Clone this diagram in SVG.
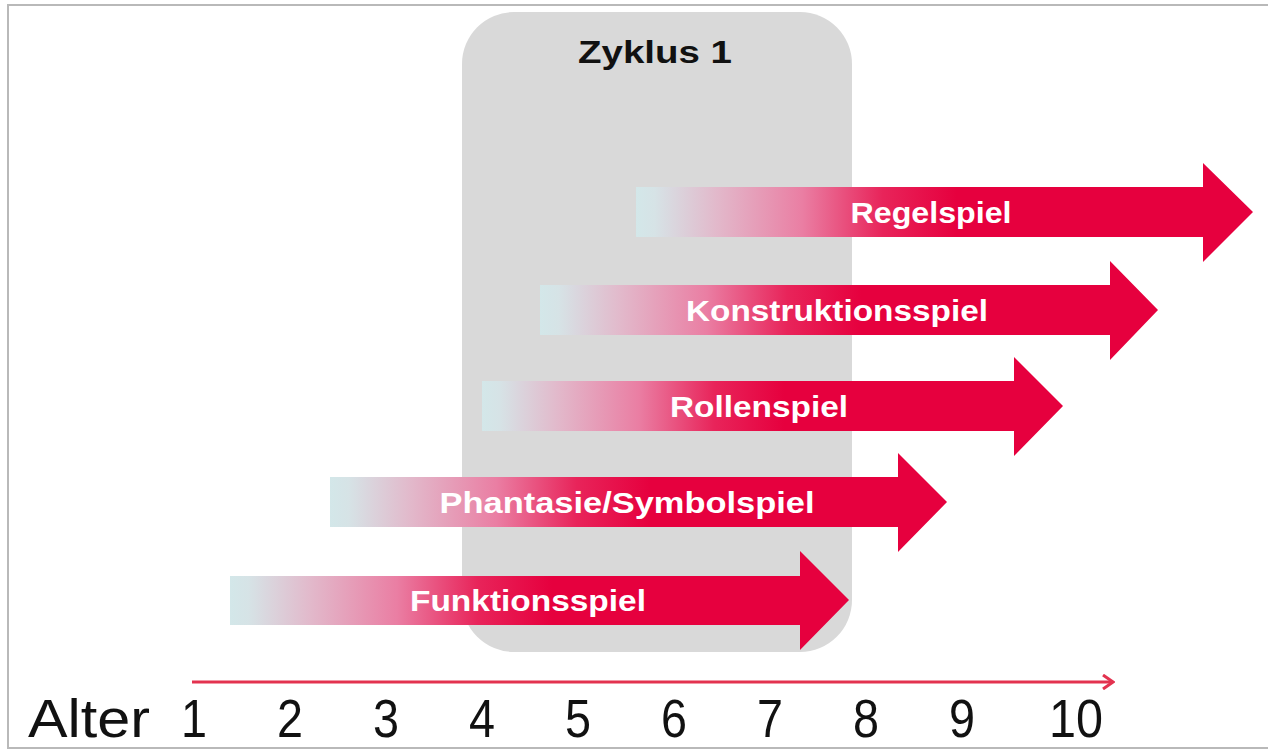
<svg xmlns="http://www.w3.org/2000/svg" width="1268" height="750" viewBox="0 0 1268 750">
  <defs>
    <linearGradient id="fade" x1="0" y1="0" x2="1" y2="0">
      <stop offset="0" stop-color="#d3e7e9"/>
      <stop offset="0.03" stop-color="#d6e3e6"/>
      <stop offset="0.13" stop-color="#e2b9cb"/>
      <stop offset="0.27" stop-color="#ea7ea3"/>
      <stop offset="0.4" stop-color="#e8245a"/>
      <stop offset="0.52" stop-color="#e6003e"/>
      <stop offset="1" stop-color="#e6003e"/>
    </linearGradient>
    <marker id="axisHead" markerWidth="14" markerHeight="16" refX="12" refY="8" orient="auto" markerUnits="userSpaceOnUse">
      <path d="M2,1 L12,8 L2,15" fill="none" stroke="#e3324f" stroke-width="3"/>
    </marker>
  </defs>
  <style>
    .arrow { fill: url(#fade); }
    .lbl { font-family: "Liberation Sans", Arial, sans-serif; font-weight: bold; font-size: 29px; fill: #ffffff; text-anchor: middle; }
    .title { font-family: "Liberation Sans", Arial, sans-serif; font-weight: bold; font-size: 31px; fill: #111111; text-anchor: middle; }
    .num { font-family: "Liberation Sans", Arial, sans-serif; font-size: 53px; fill: #111111; text-anchor: middle; }
  </style>
  <rect x="0" y="0" width="1268" height="750" fill="#ffffff"/>
  <rect x="8" y="5" width="1270" height="743" fill="none" stroke="#b9b9b9" stroke-width="2"/>

  <g id="zyklus">
    <rect x="462" y="12" width="390" height="640" rx="52" ry="52" fill="#d9d9d9"/>
    <text class="title" x="655" y="63" textLength="154" lengthAdjust="spacingAndGlyphs">Zyklus 1</text>
  </g>

  <g id="regelspiel">
    <path class="arrow" d="M636,187 H1203 V163 L1253,212 L1203,262 V237 H636 Z"/>
    <text class="lbl" x="931" y="223" textLength="161" lengthAdjust="spacingAndGlyphs">Regelspiel</text>
  </g>
  <g id="konstruktionsspiel">
    <path class="arrow" d="M540,285 H1110 V261 L1158,310 L1110,360 V335 H540 Z"/>
    <text class="lbl" x="837" y="321" textLength="302" lengthAdjust="spacingAndGlyphs">Konstruktionsspiel</text>
  </g>
  <g id="rollenspiel">
    <path class="arrow" d="M482,381 H1014 V357 L1063,406 L1014,456 V431 H482 Z"/>
    <text class="lbl" x="759" y="417" textLength="178" lengthAdjust="spacingAndGlyphs">Rollenspiel</text>
  </g>
  <g id="phantasie">
    <path class="arrow" d="M330,477 H898 V453 L947,502 L898,552 V527 H330 Z"/>
    <text class="lbl" x="627" y="513" textLength="375" lengthAdjust="spacingAndGlyphs">Phantasie/Symbolspiel</text>
  </g>
  <g id="funktionsspiel">
    <path class="arrow" d="M230,576 H800 V551 L849,600 L800,650 V625 H230 Z"/>
    <text class="lbl" x="528" y="611" textLength="236" lengthAdjust="spacingAndGlyphs">Funktionsspiel</text>
  </g>

  <g id="connectors">
    <line x1="192" y1="682" x2="1113" y2="682" stroke="#e3324f" stroke-width="3" marker-end="url(#axisHead)"/>
  </g>

  <g id="axis-labels">
    <text class="num" x="89" y="737" textLength="122" lengthAdjust="spacingAndGlyphs">Alter</text>
    <text class="num" x="194" y="737" textLength="26" lengthAdjust="spacingAndGlyphs">1</text>
    <text class="num" x="290" y="737" textLength="26" lengthAdjust="spacingAndGlyphs">2</text>
    <text class="num" x="386" y="737" textLength="26" lengthAdjust="spacingAndGlyphs">3</text>
    <text class="num" x="482" y="737" textLength="26" lengthAdjust="spacingAndGlyphs">4</text>
    <text class="num" x="578" y="737" textLength="26" lengthAdjust="spacingAndGlyphs">5</text>
    <text class="num" x="674" y="737" textLength="26" lengthAdjust="spacingAndGlyphs">6</text>
    <text class="num" x="770" y="737" textLength="26" lengthAdjust="spacingAndGlyphs">7</text>
    <text class="num" x="866" y="737" textLength="26" lengthAdjust="spacingAndGlyphs">8</text>
    <text class="num" x="962" y="737" textLength="26" lengthAdjust="spacingAndGlyphs">9</text>
    <text class="num" x="1076" y="737" textLength="54" lengthAdjust="spacingAndGlyphs">10</text>
  </g>
</svg>
